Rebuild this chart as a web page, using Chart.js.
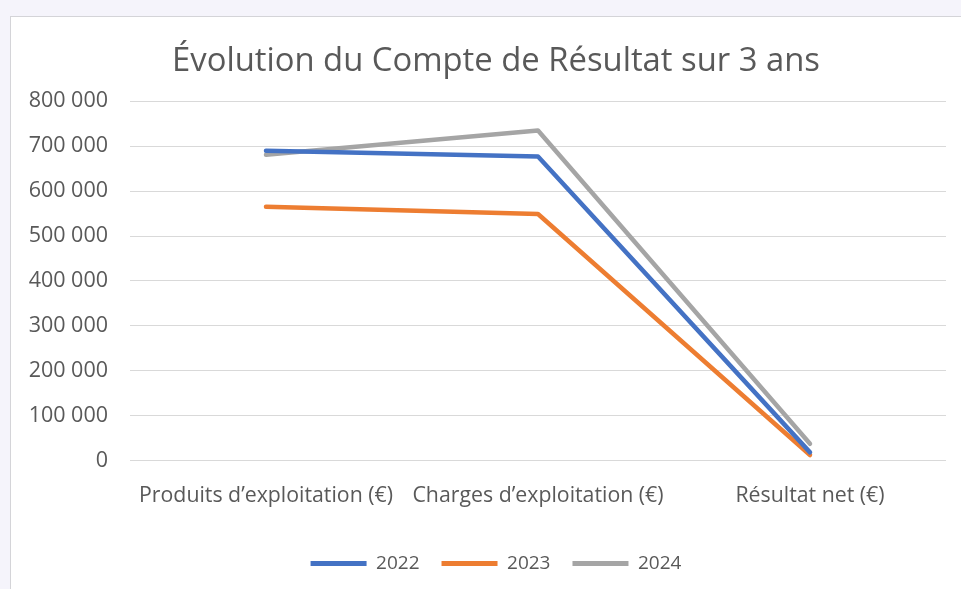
<!DOCTYPE html>
<html>
<head>
<meta charset="utf-8">
<script src="https://cdn.jsdelivr.net/npm/chart.js@4/dist/chart.umd.min.js"></script>
<style>
  html, body { margin: 0; padding: 0; overflow: hidden; background: #f5f4fb; }
  #box {
    position: absolute; left: 10px; top: 16px;
    width: 972px; height: 600px;
    background: #fff; border: 1px solid #d4d4d8;
  }
  #chart { display: block; }
</style>
</head>
<body>
<div id="box"><canvas id="chart" width="970" height="598"></canvas></div>
<script>
const categories = ['Produits d\u2019exploitation (€)', 'Charges d\u2019exploitation (€)', 'Résultat net (€)'];
const values2022 = [690000, 677000, 18000];
const values2023 = [565000, 549000, 12000];
const values2024 = [681000, 735000, 37000];
const yTicks = [0, 100000, 200000, 300000, 400000, 500000, 600000, 700000, 800000];

const TEXT = '#595959';
const FONT = "'Open Sans', sans-serif";

const fmt = v => String(v).replace(/\B(?=(\d{3})+(?!\d))/g, ' ');

const line = (label, data, color) => ({
    label, data,
    borderColor: color,
    backgroundColor: color,
    borderWidth: 4.5,
    pointRadius: 0,
    pointHoverRadius: 0,
    tension: 0,
    borderJoinStyle: 'round',
    borderCapStyle: 'round',
});

new Chart(document.getElementById('chart'), {
    type: 'line',
    data: {
        labels: categories,
        datasets: [
            line('2022', values2022, '#4472c4'),
            line('2023', values2023, '#ed7d31'),
            line('2024', values2024, '#a5a5a5'),
        ]
    },
    options: {
        responsive: false,
        animation: false,
        layout: { padding: { top: 25, right: 0, left: 0, bottom: 32 } },
        plugins: {
            title: {
                display: true,
                text: 'Évolution du Compte de Résultat sur 3 ans',
                color: TEXT,
                font: { family: FONT, size: 32.8, weight: 'normal' },
                padding: { top: 0, bottom: 20 },
            },
            legend: {
                position: 'bottom',
                labels: {
                    color: TEXT,
                    font: { family: FONT, size: 19 },
                    boxWidth: 56,
                    boxHeight: 5,
                    padding: 22,
                    useBorderRadius: true,
                    borderRadius: 2.5,
                    generateLabels(chart) {
                        return chart.data.datasets.map((ds, i) => ({
                            text: ds.label,
                            fillStyle: ds.borderColor,
                            strokeStyle: ds.borderColor,
                            lineWidth: 0,
                            fontColor: TEXT,
                            datasetIndex: i,
                        }));
                    }
                }
            },
            tooltip: { enabled: false },
        },
        scales: {
            x: {
                offset: true,
                grid: { display: false, drawTicks: false },
                border: { display: false },
                ticks: {
                    color: TEXT,
                    font: { family: FONT, size: 21.3 },
                    padding: 23,
                    maxRotation: 0,
                    autoSkip: false,
                },
            },
            y: {
                min: 0,
                max: 800000,
                afterBuildTicks(scale) { scale.ticks = yTicks.map(v => ({ value: v })); },
                afterFit(scale) { scale.width = 119; },
                grid: { color: '#d9d9d9', lineWidth: 1, drawTicks: false },
                border: { display: false },
                ticks: {
                    color: TEXT,
                    font: { family: FONT, size: 21.5 },
                    padding: 22,
                    callback: v => fmt(v),
                },
            },
            // empty right-hand axis, only keeps the white margin right of the plot
            yRight: {
                position: 'right',
                afterFit(scale) { scale.width = 35; },
                grid: { display: false, drawTicks: false },
                border: { display: false },
                ticks: { display: false },
            }
        }
    }
});
</script>
</body>
</html>
